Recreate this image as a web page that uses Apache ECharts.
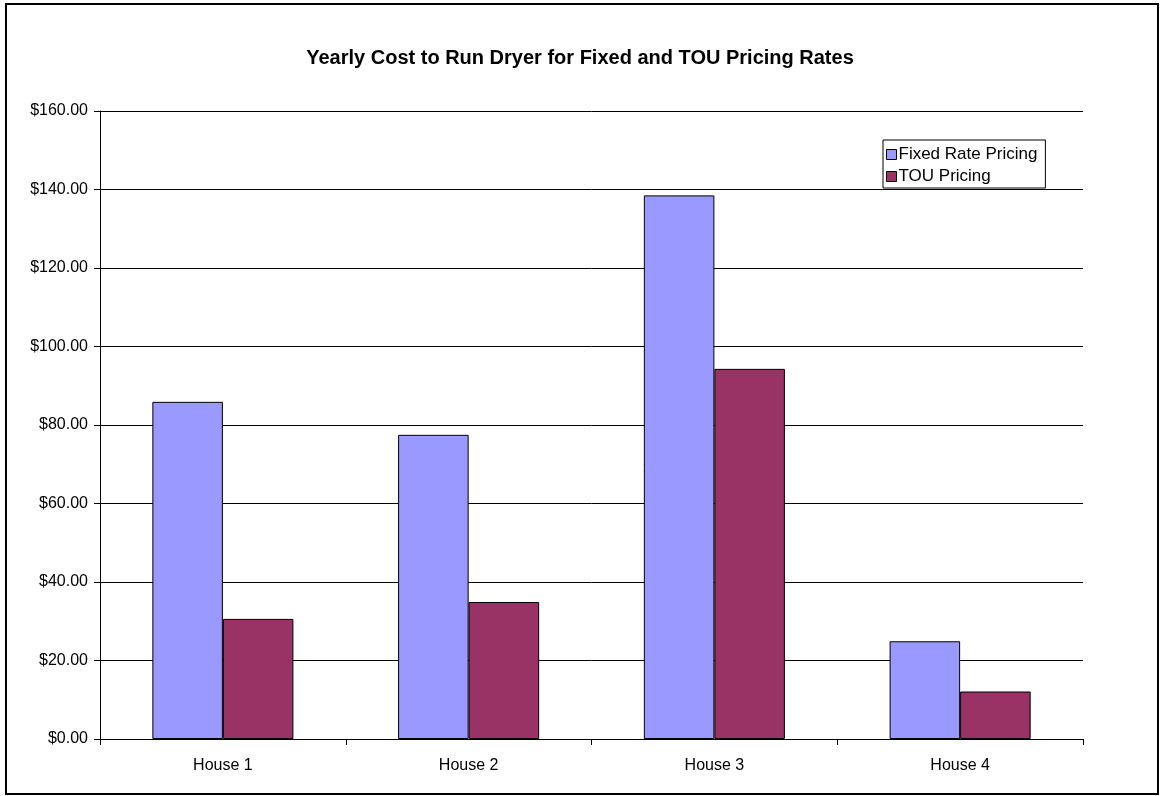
<!DOCTYPE html>
<html>
<head>
<meta charset="utf-8">
<script src="https://cdn.jsdelivr.net/npm/echarts@6/dist/echarts.min.js"></script>
<style>
  html, body { margin: 0; padding: 0; background: #fff; }
  #chart { width: 1160px; height: 796px; }
</style>
</head>
<body>
<div id="chart"></div>
<script>
// Yearly dryer running cost per house, fixed vs time-of-use pricing
const categories = ['House 1', 'House 2', 'House 3', 'House 4'];
const fixedRate = [85.9, 77.5, 138.5, 24.9];
const touRate = [30.6, 34.9, 94.3, 12.1];
const seriesNames = ['Fixed Rate Pricing', 'TOU Pricing'];

const FONT = 'Liberation Sans, Arial, sans-serif';
const chart = echarts.init(document.getElementById('chart'), null, { renderer: 'canvas' });

chart.setOption({
  backgroundColor: '#ffffff',
  animation: false,
  title: {
    text: 'Yearly Cost to Run Dryer for Fixed and TOU Pricing Rates',
    left: 'center',
    top: 43,
    textStyle: { fontFamily: FONT, fontSize: 20, fontWeight: 'bold', color: '#000' }
  },
  legend: {
    orient: 'vertical',
    left: 883,
    top: 140,
    padding: [6, 8, 3, 3],
    itemGap: 5,
    itemWidth: 10,
    itemHeight: 10,
    icon: 'rect',
    itemStyle: { borderColor: '#000', borderWidth: 1 },
    borderColor: '#000',
    borderWidth: 1,
    backgroundColor: '#fff',
    selectedMode: false,
    textStyle: { fontFamily: FONT, fontSize: 17, lineHeight: 17, color: '#000', padding: [0, 0, 0, -3] },
    data: seriesNames
  },
  grid: { left: 100, right: 77, top: 111, bottom: 57, containLabel: false },
  xAxis: {
    type: 'category',
    data: categories,
    axisLine: { lineStyle: { color: '#000', width: 1 } },
    axisTick: { show: true, length: 6, lineStyle: { color: '#000' } },
    axisLabel: { fontFamily: FONT, fontSize: 16, color: '#000', margin: 19 }
  },
  yAxis: {
    type: 'value',
    min: 0,
    max: 160,
    interval: 20,
    axisLine: { show: true, lineStyle: { color: '#000', width: 1 } },
    axisTick: { show: true, length: 6, lineStyle: { color: '#000' } },
    splitLine: { show: true, lineStyle: { color: '#000', width: 1 } },
    axisLabel: {
      fontFamily: FONT, fontSize: 16, color: '#000', margin: 12,
      formatter: v => '$' + v.toFixed(2)
    }
  },
  series: [
    {
      name: seriesNames[0],
      type: 'bar',
      data: fixedRate,
      barGap: '0%',
      barCategoryGap: '42.6%',
      itemStyle: { color: '#9999ff', borderColor: '#000', borderWidth: 1 }
    },
    {
      name: seriesNames[1],
      type: 'bar',
      data: touRate,
      itemStyle: { color: '#993366', borderColor: '#000', borderWidth: 1 }
    }
  ],
  graphic: [
    {
      type: 'rect',
      shape: { x: 6, y: 4, width: 1152, height: 790 },
      style: { fill: 'none', stroke: '#000', lineWidth: 2 },
      silent: true,
      z: 100
    }
  ]
});
</script>
</body>
</html>
